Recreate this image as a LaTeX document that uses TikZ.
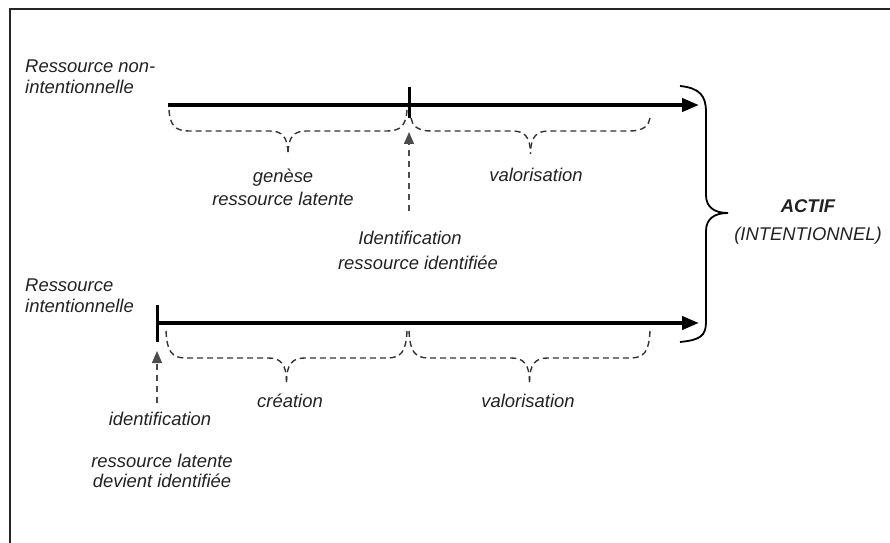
\documentclass[tikz,border=0pt]{standalone}
\usepackage{fontspec}
\setmainfont{Liberation Sans}
\usetikzlibrary{arrows.meta}
\definecolor{txt}{HTML}{222222}
\newcommand\dashbrace[5]{% x0 x1 ytop ybot ytip
  \draw[dbr] (#1,#3) .. controls ({#1+1},{#4-6}) and ({#1+6},#4) .. ({#1+20},#4) -- ({(#1+#2)/2-18},#4) .. controls ({(#1+#2)/2-6},#4) and ({(#1+#2)/2},{#4+6}) .. ({(#1+#2)/2},#5);
  \draw[dbr] (#2,#3) .. controls ({#2-1},{#4-6}) and ({#2-6},#4) .. ({#2-20},#4) -- ({(#1+#2)/2+18},#4) .. controls ({(#1+#2)/2+6},#4) and ({(#1+#2)/2},{#4+6}) .. ({(#1+#2)/2},#5);
}
\begin{document}
\begin{tikzpicture}[x=1bp,y=-1bp,
  lbl/.style={font=\fontsize{18.5}{22}\selectfont\itshape, text=txt, inner sep=0pt, text height=13.5bp, text depth=3.8bp},
  axis/.style={line width=4bp, -{Triangle[length=17bp,width=13bp]}},
  tickmark/.style={line width=3bp},
  dbr/.style={dash pattern=on 6bp off 4bp, line width=1.4bp, draw=black!80},
  upar/.style={dash pattern=on 6bp off 5bp, line width=1.4bp, draw=black!70, -{Triangle[length=12bp,width=10bp]}},
  bigbrace/.style={line width=1.8bp, draw=black}]
\useasboundingbox (0,0) rectangle (890,543);
\draw[line width=1.5bp, black!85] (10,543) -- (10,9) -- (890,9);

% top timeline
\coordinate (a1s) at (168,105); \coordinate (a1e) at (699,105);
\draw[axis] (a1s) -- (a1e);
\coordinate (t1a) at (409,87); \coordinate (t1b) at (409,118);
\draw[tickmark] (t1a) -- (t1b);
\dashbrace{169}{407}{110}{131}{154}
\dashbrace{411}{650}{118}{131}{154}
\coordinate (u1s) at (409,211); \coordinate (u1e) at (409,132);
\draw[upar] (u1s) -- (u1e);

% bottom timeline
\coordinate (a2s) at (158,323); \coordinate (a2e) at (699,323);
\draw[axis] (a2s) -- (a2e);
\coordinate (t2a) at (157,305); \coordinate (t2b) at (157,342);
\draw[tickmark] (t2a) -- (t2b);
\dashbrace{166}{407}{331}{358}{382}
\dashbrace{409}{650}{331}{358}{382}
\coordinate (u2s) at (157,403); \coordinate (u2e) at (157,351);
\draw[upar] (u2s) -- (u2e);

% big brace
\coordinate (bbt) at (680,86); \coordinate (bbtip) at (728,213); \coordinate (bbb) at (680,342);
\draw[bigbrace] (bbt) .. controls (700,88) and (706,96) .. (706,112) -- (706,195) .. controls (706,207) and (714,213) .. (bbtip)
  .. controls (714,213) and (706,219) .. (706,231) -- (706,322) .. controls (706,336) and (700,340) .. (bbb);

% labels
\node[lbl, anchor=west] (rn1) at (25,68) {Ressource non-};
\node[lbl, anchor=west] (rn2) at (25,89) {intentionnelle};
\node[lbl, anchor=west] (ri1) at (25,287) {Ressource};
\node[lbl, anchor=west] (ri2) at (25,308) {intentionnelle};
\node[lbl] (gen) at (283,178) {genèse};
\node[lbl] (rlat) at (283,201) {ressource latente};
\node[lbl] (val1) at (536,177) {valorisation};
\node[lbl] (ident) at (410,240) {Identification};
\node[lbl] (rid) at (418,265) {ressource identifiée};
\node[lbl, font=\fontsize{18.5}{22}\selectfont\bfseries\itshape] (actif) at (808,208) {ACTIF};
\node[lbl] (intent) at (808,236) {(INTENTIONNEL)};
\node[lbl] (crea) at (290,403) {création};
\node[lbl] (val2) at (528,403) {valorisation};
\node[lbl] (ident2) at (160,421) {identification};
\node[lbl] (rlat2) at (162,463) {ressource latente};
\node[lbl] (dev) at (162,483) {devient identifiée};
\end{tikzpicture}
\end{document}
